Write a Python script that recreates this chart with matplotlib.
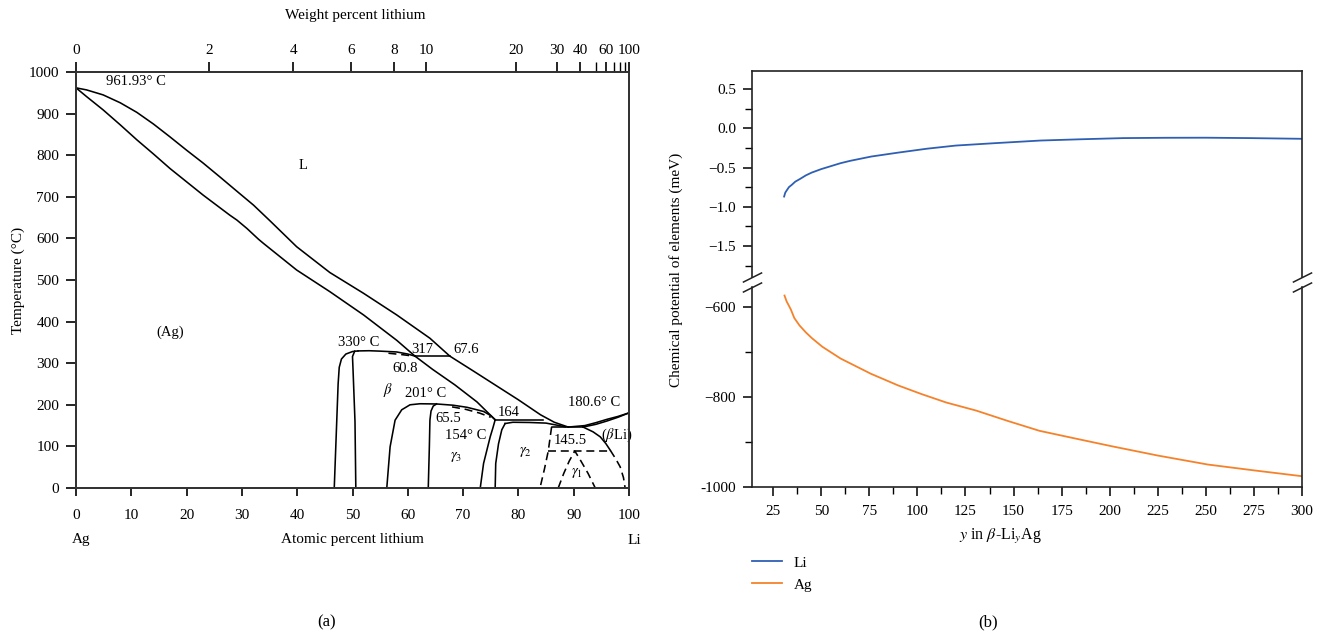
import matplotlib
matplotlib.use('Agg')
import matplotlib.pyplot as plt
from matplotlib.lines import Line2D

plt.rcParams['font.family'] = ['Liberation Serif', 'DejaVu Serif']
plt.rcParams['mathtext.fontset'] = 'stix'
plt.rcParams['axes.unicode_minus'] = True
FS = 11
FA = 10.5

# ---------------- (a) phase diagram data (atomic % Li, temperature °C) ----------------
liq_x = [0, 1.9, 4.9, 8.0, 11.0, 14.0, 17.0, 20.0, 23.0, 26.0, 29.4, 32.1, 35.1, 39.9, 45.9, 52.0,
         58.0, 64.0, 67.6, 72, 76.7, 80, 84, 86.5, 89]
liq_T = [961.93, 957, 945, 926, 903, 875, 844, 812, 781, 748, 710, 680, 642, 580, 518, 468,
         416, 360, 317, 280, 240, 212, 176, 158, 146.5]
sol_x = [0, 1.9, 4.9, 8.0, 11.0, 14.0, 17.0, 20.0, 23.0, 26.0, 27.8, 29.1, 30.9, 33.0, 33.9, 39.9,
         45.9, 52.0, 58.0, 61.3]
sol_T = [961.93, 941, 909, 873, 837, 803, 768, 736, 704, 674, 656, 644, 624, 598, 588, 524,
         472, 416, 355, 317]
beta_left_x = [46.7, 47.4, 47.6, 48.0, 48.8, 50.0, 51.0]
beta_left_T = [0, 250, 290, 310, 322, 328, 329.5]
beta_right_x = [50.6, 50.45, 50.1, 50.0, 50.4]
beta_right_T = [0, 160, 283, 316, 329]
beta_top_x = [51.0, 53, 55, 58, 60, 61.3]
beta_top_T = [329.5, 330, 329, 327, 322, 317]
beta_dash_x = [56.5, 59, 60.8]
beta_dash_T = [324, 320.5, 317.5]
peri317_x = [61.3, 67.6]
peri317_T = [317, 317]
beta_sol_x = [61.3, 64.5, 68.5, 72.5, 75.8]
beta_sol_T = [317, 285, 248, 207, 164]
g3_left_x = [56.2, 56.5, 56.8, 57.7, 58.9, 60.4, 62.2, 65.2, 68.2, 70.7, 73.7, 75.0, 75.8]
g3_left_T = [0, 50, 99, 163, 188, 200, 202.5, 202, 199, 194, 184, 174, 164]
g3_inner_x = [63.7, 63.9, 64.0, 64.2, 64.6, 65.2]
g3_inner_T = [0, 100, 163, 185, 197, 202]
g3_dash_x = [68.0, 70.5, 73, 75]
g3_dash_T = [195, 189, 180, 170]
lineA_x = [73.1, 73.7, 74.9, 75.4, 75.8]
lineA_T = [0, 59, 123, 145, 164]
lineB_x = [75.8, 75.9, 76.4, 77.0, 77.6]
lineB_T = [0, 59, 106, 140, 155]
g2_top_x = [77.6, 79, 82, 85, 87, 88.5]
g2_top_T = [155, 158, 157.5, 156, 151, 147]
peri164_x = [75.8, 84.5]
peri164_T = [164, 164]
eut_x = [86.0, 91.7]
eut_T = [146.5, 146.5]
g2_right_x = [86.0, 85.4, 84.7, 83.9]
g2_right_T = [146.5, 89, 45, 0]
h89_x = [85.4, 96.6]
h89_T = [89, 89]
g1_x = [87.2, 88.2, 89.2, 90.2, 91.3, 92.6, 93.9]
g1_T = [0, 35, 65, 89, 65, 35, 0]
bli_solv_x = [91.7, 93.5, 94.8, 95.8, 96.6]
bli_solv_T = [146.5, 135, 123, 107, 91]
bli_dash_x = [96.6, 97.6, 98.4, 99.0, 99.3]
bli_dash_T = [91, 70, 51, 25, 0]
li_liq_x = [89, 92, 94, 96, 98, 100]
li_liq_T = [146.5, 150, 157, 165, 172, 180.6]
li_sol_x = [91.7, 94, 96, 98, 100]
li_sol_T = [146.5, 153, 161, 170, 180.6]

wt_major = [0, 2, 4, 6, 8, 10, 20, 30, 40, 60, 100]
wt_minor = [50, 70, 80, 90]
at_ticks = list(range(0, 101, 10))
T_ticks = list(range(0, 1001, 100))

# ---------------- (b) chemical potential data ----------------
li_y = [30.7, 31.3, 32.1, 33.2, 34.7, 36.5, 39, 42, 45, 50, 54, 60, 65, 76, 90, 105, 120, 140,
        164, 185, 207, 229, 250, 273, 300]
li_mu = [-0.87, -0.82, -0.79, -0.75, -0.72, -0.68, -0.645, -0.60, -0.565, -0.52, -0.49, -0.445,
         -0.415, -0.36, -0.31, -0.26, -0.22, -0.19, -0.156, -0.14, -0.125, -0.121, -0.12, -0.125,
         -0.134]
ag_y = [30.9, 32, 34.2, 36, 38.6, 42, 45.2, 50.6, 60, 75.8, 90, 102, 115, 130.6, 147, 163.5, 182,
        200.7, 225, 251, 275, 300]
ag_mu = [-574, -587, -605, -624, -640, -656, -669, -688, -714, -748, -774, -793, -812, -830, -853,
         -875, -892, -909, -930, -950, -963, -976]
top_yticks = [0.5, 0.0, -0.5, -1.0, -1.5]
bot_yticks = [-600, -800, -1000]
x_ticks_b = list(range(25, 301, 25))

LI_COLOR = '#2f5fb3'
AG_COLOR = '#f5822a'


def wt2at(w):
    a = w / 6.941
    b = (100 - w) / 107.868
    return 100.0 * a / (a + b)


fig = plt.figure(figsize=(13.21, 6.37), dpi=100)

# ================= panel (a) =================
ax = fig.add_axes([76 / 1321, 1 - 488 / 637, 553 / 1321, 416 / 637])
ax.set_xlim(0, 100)
ax.set_ylim(0, 1000)
LW = 1.15
k = dict(color='black', lw=LW)
kd = dict(color='black', lw=LW, dashes=(5, 3))
solid = [(liq_x, liq_T), (sol_x, sol_T), (beta_left_x, beta_left_T), (beta_right_x, beta_right_T),
         (beta_top_x, beta_top_T), (peri317_x, peri317_T), (beta_sol_x, beta_sol_T),
         (g3_left_x, g3_left_T), (g3_inner_x, g3_inner_T), (lineA_x, lineA_T), (lineB_x, lineB_T),
         (g2_top_x, g2_top_T), (peri164_x, peri164_T), (eut_x, eut_T), (bli_solv_x, bli_solv_T),
         (li_liq_x, li_liq_T), (li_sol_x, li_sol_T)]
dashed = [(beta_dash_x, beta_dash_T), (g3_dash_x, g3_dash_T), (g2_right_x, g2_right_T),
          (h89_x, h89_T), (g1_x, g1_T), (bli_dash_x, bli_dash_T)]
for xs, ts in solid:
    ax.plot(xs, ts, solid_joinstyle='round', **k)
for xs, ts in dashed:
    ax.plot(xs, ts, **kd)

ax.set_xticks(at_ticks)
ax.set_yticks(T_ticks)
ax.tick_params(axis='x', direction='out', length=6, width=1.2, labelsize=FS, pad=9)
ax.tick_params(axis='y', direction='out', length=7, width=1.2, labelsize=FS, pad=5)
for s in ax.spines.values():
    s.set_linewidth(1.3)
    s.set_color('#333333')
ax.set_ylabel('Temperature (°C)', fontsize=FS)
ax.yaxis.set_label_coords(-0.093, 0.5)

lbl_y = (488 - 540) / 416
ax.text(1, lbl_y, 'Ag', transform=ax.get_xaxis_transform(), ha='center', va='center', fontsize=FS)
ax.text(50, lbl_y, 'Atomic percent lithium', transform=ax.get_xaxis_transform(), ha='center',
        va='center', fontsize=FS)
ax.text(101, lbl_y, 'Li', transform=ax.get_xaxis_transform(), ha='center', va='center', fontsize=FS)

axt = ax.twiny()
axt.set_xlim(0, 100)
axt.set_xticks([wt2at(w) for w in wt_major])
axt.set_xticklabels([str(w) for w in wt_major])
axt.set_xticks([wt2at(w) for w in wt_minor], minor=True)
axt.tick_params(axis='x', which='major', direction='out', length=7, width=1.2, labelsize=FS, pad=4)
axt.tick_params(axis='x', which='minor', direction='out', length=7, width=1.0)
for s in axt.spines.values():
    s.set_linewidth(1.3)
    s.set_color('#333333')
fig.text(355 / 1321, 1 - 15 / 637, 'Weight percent lithium', ha='center', va='center', fontsize=FS)

anns = [
    (10.8, 978, '961.93° C'), (41, 776, 'L'), (17, 375, '(Ag)'), (51.2, 349, '330° C'),
    (62.6, 332, '317'), (70.5, 332, '67.6'), (59.5, 288, '60.8'), (56.4, 235, r'$\beta$'),
    (63.3, 228, '201° C'), (67.4, 166, '65.5'), (70.5, 127, '154° C'), (68.7, 75, r'$\gamma_3$'),
    (78.3, 181, '164'), (93.7, 205, '180.6° C'), (97.8, 127, r'($\beta$Li)'),
    (89.3, 113, '145.5'), (81.2, 86, r'$\gamma_2$'), (90.6, 36, r'$\gamma_1$'),
]
for xx, tt, s in anns:
    ax.text(xx, tt, s, ha='center', va='center', fontsize=FA)

fig.text(327 / 1321, 1 - 622 / 637, '(a)', ha='center', va='center', fontsize=12)

# ================= panel (b) =================
L = 752 / 1321
W = (1302 - 752) / 1321
axT = fig.add_axes([L, 1 - 277 / 637, W, (277 - 71) / 637])
axB = fig.add_axes([L, 1 - 487 / 637, W, (487 - 287) / 637])
for a in (axT, axB):
    a.set_xlim(14, 300)
    for s in a.spines.values():
        s.set_linewidth(1.2)
        s.set_color('#222222')

axT.plot(li_y, li_mu, color=LI_COLOR, lw=1.3)
axB.plot(ag_y, ag_mu, color=AG_COLOR, lw=1.3)
axT.set_ylim(-1.895, 0.73)
axB.set_ylim(-1000, -555)

axT.spines['bottom'].set_visible(False)
axB.spines['top'].set_visible(False)
axT.tick_params(axis='x', which='both', bottom=False, top=False, labelbottom=False)
axT.set_yticks(top_yticks)
axT.set_yticklabels([f'{v:.1f}'.replace('-', '\u2212') for v in top_yticks])
axT.yaxis.set_minor_locator(matplotlib.ticker.MultipleLocator(0.25))
axB.set_yticks(bot_yticks)
axB.set_yticklabels(['\u2212600', '\u2212800', '-1000'])
axB.yaxis.set_minor_locator(matplotlib.ticker.MultipleLocator(100))
axB.set_xticks(x_ticks_b)
axB.xaxis.set_minor_locator(matplotlib.ticker.MultipleLocator(12.5))
for a in (axT, axB):
    a.tick_params(which='major', direction='out', length=6.5, width=1.1, labelsize=FS, pad=5)
    a.tick_params(which='minor', direction='out', length=5, width=1.0)
    a.tick_params(axis='y', right=False)
axB.tick_params(axis='x', pad=6.5)

kw = dict(marker=[(-1, -0.5), (1, 0.5)], markersize=14, linestyle='none', color='#222222',
          mec='#222222', mew=1.1, clip_on=False)
axT.plot([0, 1], [0, 0], transform=axT.transAxes, **kw)
axB.plot([0, 1], [1, 1], transform=axB.transAxes, **kw)

fig.text(676 / 1321, 1 - 270 / 637, 'Chemical potential of elements (meV)', rotation=90,
         ha='center', va='center', fontsize=FS)
fig.text(1000 / 1321, 1 - 537 / 637, r'$y$ in $\beta$-Li$_y$Ag', ha='center', va='center',
         fontsize=FS + 0.5)

handles = [Line2D([], [], color=LI_COLOR, lw=1.3), Line2D([], [], color=AG_COLOR, lw=1.3)]
fig.legend(handles, ['Li', 'Ag'], loc='upper left', bbox_to_anchor=(L, 1 - 556 / 637),
           frameon=False, fontsize=FS, handlelength=1.95, handletextpad=0.8, labelspacing=0.55,
           borderpad=0, borderaxespad=0)

fig.text(988 / 1321, 1 - 622 / 637, '(b)', ha='center', va='center', fontsize=12)

fig.savefig('out.png', dpi=100)
